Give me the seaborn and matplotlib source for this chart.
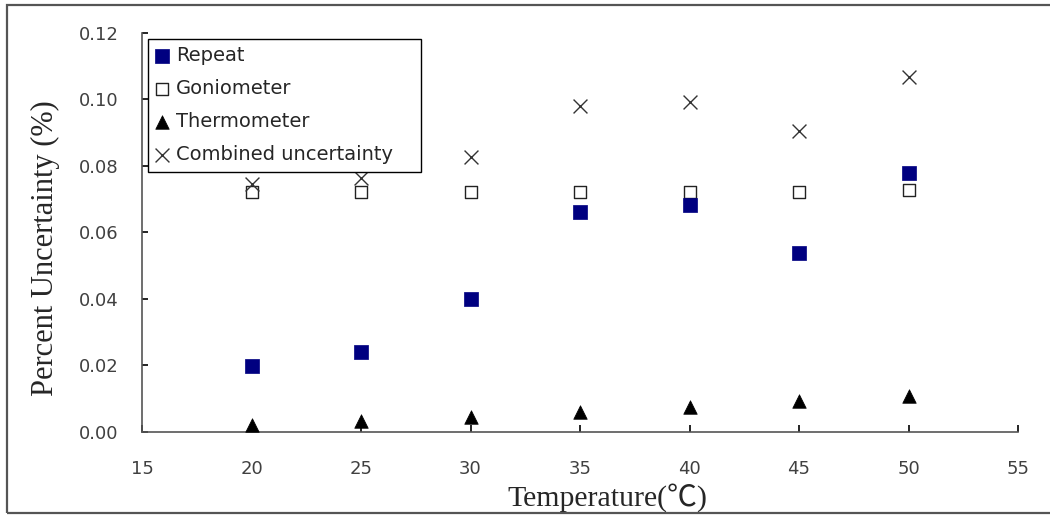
import numpy as np
import pandas as pd
import seaborn as sns
import matplotlib
matplotlib.use('Agg')
import matplotlib.pyplot as plt
from matplotlib.patches import Rectangle

# data
temperature = [20, 25, 30, 35, 40, 45, 50]
repeat = [0.0199, 0.0240, 0.0400, 0.0660, 0.0681, 0.0537, 0.0779]
goniometer = [0.0720, 0.0720, 0.0720, 0.0720, 0.0720, 0.0720, 0.0726]
thermometer = [0.0021, 0.0034, 0.0045, 0.0060, 0.0075, 0.0094, 0.0109]
combined = [0.0745, 0.0762, 0.0826, 0.0981, 0.0993, 0.0905, 0.1068]

x_ticks = [15, 20, 25, 30, 35, 40, 45, 50, 55]
y_ticks = [0.00, 0.02, 0.04, 0.06, 0.08, 0.10, 0.12]

df = pd.DataFrame({'Temperature': temperature, 'Repeat': repeat,
                   'Goniometer': goniometer, 'Thermometer': thermometer,
                   'Combined uncertainty': combined})

sns.set_style('white')
plt.rcParams['font.family'] = ['DejaVu Sans']

fig = plt.figure(figsize=(10.5, 5.17), dpi=100)
ax = fig.add_axes([142 / 1050, 85 / 517, (1018 - 142) / 1050, (432 - 32.7) / 517])

# outer frame around the whole chart
fig.patches.append(Rectangle((7 / 1050, 4 / 517), 1.2, (513 - 5) / 517,
                             transform=fig.transFigure, fill=False,
                             edgecolor='#555555', linewidth=1.6))

sns.scatterplot(data=df, x='Temperature', y='Repeat', ax=ax, marker='s',
                s=110, color='#000080', edgecolor='#000080', linewidth=0.5,
                label='Repeat', zorder=3)
sns.scatterplot(data=df, x='Temperature', y='Goniometer', ax=ax, marker='s',
                s=75, facecolor='white', edgecolor='#222222', linewidth=1.0,
                label='Goniometer', zorder=2)
sns.scatterplot(data=df, x='Temperature', y='Thermometer', ax=ax, marker='^',
                s=95, color='black', edgecolor='black', linewidth=0.5,
                label='Thermometer', zorder=3)
sns.scatterplot(data=df, x='Temperature', y='Combined uncertainty', ax=ax,
                marker='x', s=100, color='#333333', linewidth=1.0,
                label='Combined uncertainty', zorder=3)

ax.set_xlim(15, 55)
ax.set_ylim(0, 0.12)
ax.set_xticks(x_ticks)
ax.set_yticks(y_ticks)
ax.set_yticklabels([f'{v:.2f}' for v in y_ticks])

for side in ['top', 'right']:
    ax.spines[side].set_visible(False)
for side in ['left', 'bottom']:
    ax.spines[side].set_color('#555555')
    ax.spines[side].set_linewidth(1.2)

ax.tick_params(axis='x', bottom=True, direction='in', length=5, width=1.2,
               color='black', pad=20, labelsize=13, labelcolor='#404040')
ax.tick_params(axis='y', left=True, direction='in', length=4, width=1.2,
               color='black', pad=17, labelsize=13, labelcolor='#404040')

ax.set_xlabel('Temperature(℃)', fontsize=21.5,
              family=['Liberation Serif', 'Noto Sans CJK KR'])
ax.set_ylabel('Percent Uncertainty (%)', fontsize=22,
              family=['Liberation Serif'])
ax.xaxis.set_label_coords((607 - 142) / 876, -(483 - 432) / 399.3)
ax.yaxis.set_label_coords(-(142 - 60) / 876, (432 - 248) / 399.3)

leg = ax.legend(loc='upper left',
                bbox_to_anchor=(0.007, 0.985, (421 - 148) / 876, 0),
                mode='expand', borderaxespad=0, fontsize=14, frameon=True,
                fancybox=False, edgecolor='black', framealpha=1,
                handlelength=0.6, handletextpad=0.45, labelspacing=0.72,
                borderpad=0.4)
leg.get_frame().set_linewidth(1.0)

fig.savefig('out.png', dpi=100)
